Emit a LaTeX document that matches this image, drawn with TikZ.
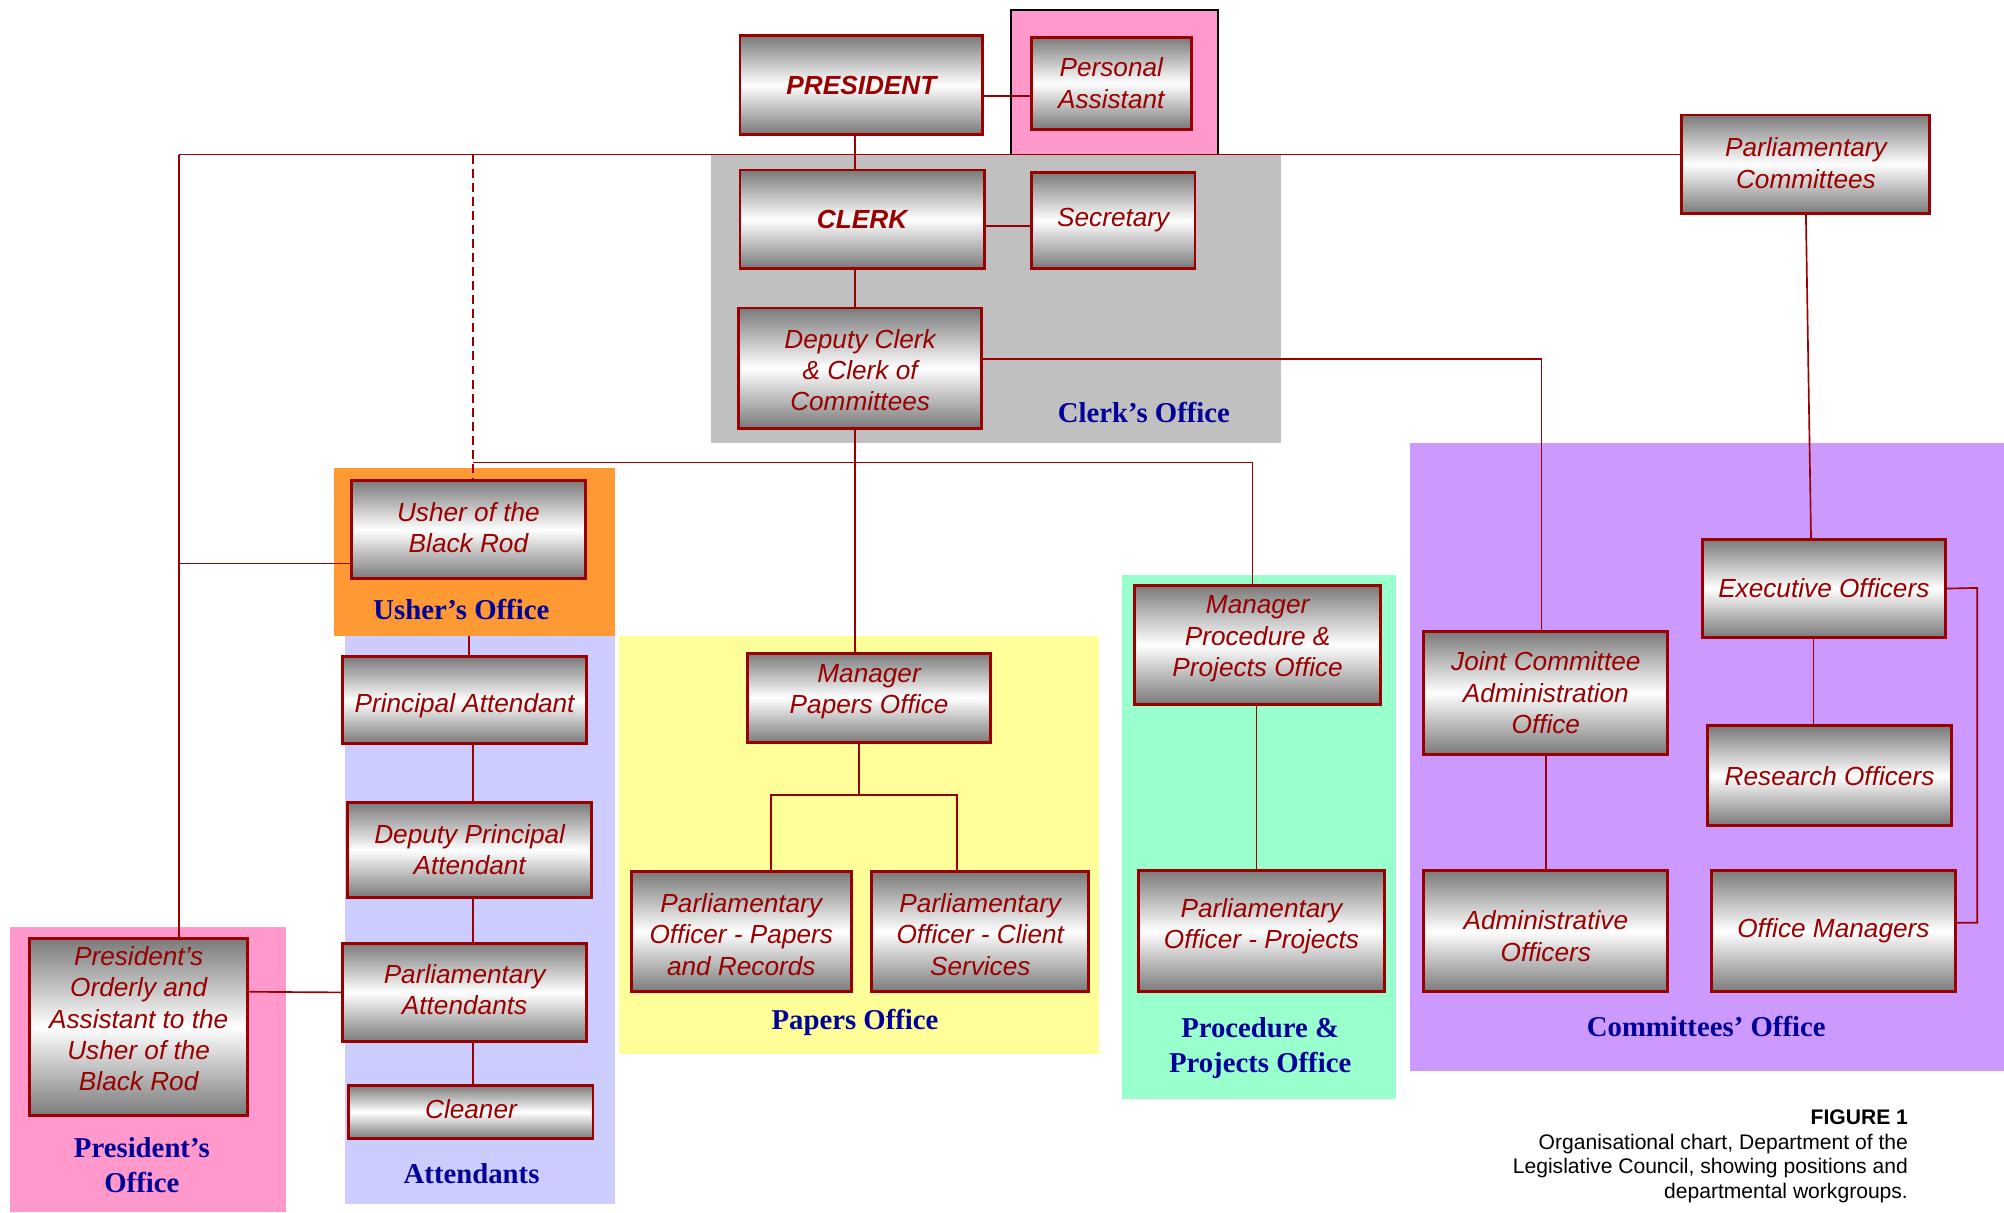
\documentclass[tikz,border=0pt]{standalone}
\usepackage{fontspec}
\usetikzlibrary{calc}
\newfontfamily\arialf{Liberation Sans}
\newfontfamily\timesf{Liberation Serif}
\definecolor{boxred}{HTML}{990000}
\definecolor{navyc}{HTML}{000099}
\definecolor{pinkc}{HTML}{FF99CC}
\definecolor{grayc}{HTML}{C0C0C0}
\definecolor{orangec}{HTML}{FF9933}
\definecolor{lavc}{HTML}{CCCCFF}
\definecolor{yelc}{HTML}{FFFF99}
\definecolor{grnc}{HTML}{99FFCC}
\definecolor{purc}{HTML}{CC99FF}
\definecolor{shadec}{HTML}{7A7A7A}
\newcommand{\mylines}[2]{\raisebox{#1}[\height][\depth]{\begin{tabular}{@{}c@{}}#2\end{tabular}}}
\tikzset{
  box/.style={draw=boxred, line width=2.3pt, top color=shadec, bottom color=shadec, middle color=white,
    font=\arialf\itshape\fontsize{20.5}{24.5}\selectfont, text=boxred, align=center, inner sep=0pt},
  conn/.style={draw=boxred, line width=1.3pt},
  dconn/.style={draw=boxred, line width=2pt, dash pattern=on 7pt off 4pt},
  grp/.style={font=\timesf\bfseries\fontsize{22.5}{27.5}\selectfont, text=navyc, align=center, inner sep=0pt},
  captxt/.style={font=\arialf\fontsize{16.5}{19}\selectfont, text=black, inner sep=0pt, anchor=base east}
}
\begin{document}
\begin{tikzpicture}[x=1pt,y=-1pt]
\useasboundingbox (0,0) rectangle (1568,949);
\fill[white] (0,0) rectangle (1568,949);
% group backgrounds
\fill[pinkc] (791,8) rectangle (953,121);
\draw[black, line width=1.3pt] (791,121) -- (791,8) -- (953,8) -- (953,121);
\fill[grayc] (556,121) rectangle (1002,347);
\fill[orangec] (261,366) rectangle (481,498);
\fill[lavc] (270,498) rectangle (481,942);
\fill[pinkc] (8,725) rectangle (224,948);
\fill[yelc] (484,498) rectangle (860,825);
\fill[grnc] (878,450) rectangle (1092,860);
\fill[purc] (1103,347) rectangle (1568,838);

% boxes
\node[box, minimum width=190pt, minimum height=77pt] (pres) at (674,66.5) {\bfseries PRESIDENT};
\node[box, minimum width=125pt, minimum height=72pt] (pa) at (869.5,65) {Personal\\Assistant};
\node[box, minimum width=191pt, minimum height=77pt] (clerk) at (674.5,171.5) {\bfseries CLERK};
\node[box, minimum width=128pt, minimum height=75pt] (sec) at (871,172.5) {Secretary};
\node[box, minimum width=190pt, minimum height=94pt] (dep) at (673,288) {\mylines{-4pt}{Deputy Clerk\\\& Clerk of\\Committees}};
\node[box, minimum width=194pt, minimum height=77pt] (pc) at (1413,128.5) {\mylines{-1.5pt}{Parliamentary\\Committees}};
\node[box, minimum width=183pt, minimum height=77pt] (usher) at (366.5,414.5) {\mylines{-1pt}{Usher of the\\Black Rod}};
\node[box, minimum width=191pt, minimum height=68pt] (prin) at (363.5,548) {\mylines{-4.5pt}{Principal Attendant}};
\node[box, minimum width=191pt, minimum height=74pt] (dpa) at (367.5,665) {Deputy Principal\\Attendant};
\node[box, minimum width=191pt, minimum height=77pt] (parat) at (363.5,776.5) {\mylines{-0.5pt}{Parliamentary\\Attendants}};
\node[box, minimum width=191pt, minimum height=42pt] (clean) at (368.5,870) {\mylines{-0.5pt}{Cleaner}};
\node[box, minimum width=171pt, minimum height=139pt] (ord) at (108.5,803.5) {\mylines{4pt}{President’s\\Orderly and\\Assistant to the\\Usher of the\\Black Rod}};
\node[box, minimum width=190pt, minimum height=70pt] (mpo) at (680,546) {\mylines{5pt}{Manager\\Papers Office}};
\node[box, minimum width=172pt, minimum height=94pt] (popr) at (580,729) {\mylines{-4.5pt}{Parliamentary\\Officer - Papers\\and Records}};
\node[box, minimum width=170pt, minimum height=94pt] (pocs) at (767,729) {\mylines{-4.5pt}{Parliamentary\\Officer - Client\\Services}};
\node[box, minimum width=192pt, minimum height=93pt] (mpp) at (984,504.5) {\mylines{4.5pt}{Manager\\Procedure \&\\Projects Office}};
\node[box, minimum width=192pt, minimum height=95pt] (popj) at (987,728.5) {\mylines{3.5pt}{Parliamentary\\Officer - Projects}};
\node[box, minimum width=191pt, minimum height=96pt] (jca) at (1209.5,542) {Joint Committee\\Administration\\Office};
\node[box, minimum width=191pt, minimum height=95pt] (ado) at (1209.5,728.5) {\mylines{-6.5pt}{Administrative\\Officers}};
\node[box, minimum width=190pt, minimum height=77pt] (exo) at (1427,460.5) {Executive Officers};
\node[box, minimum width=191pt, minimum height=78pt] (reo) at (1431.5,607) {Research Officers};
\node[box, minimum width=191pt, minimum height=95pt] (omg) at (1434.5,728.5) {Office Managers};

% junction coordinates
\coordinate (tl) at (140,121);
\coordinate (td) at (370,121);
\coordinate (lb) at (140,441);
\coordinate (dm) at (370,362);
\coordinate (ub) at (367,498);
\coordinate (pj) at (672,622);
\coordinate (br) at (1547,460);

% connectors
\draw[conn] ($(pres.east)+(0,8.5)$) -- ($(pa.west)+(0,10)$);
\draw[conn] ($(pres.south)+(-5,0)$) -- ($(clerk.north)+(-5.5,0)$);
\draw[conn] ($(clerk.east)+(0,5.5)$) -- ($(sec.west)+(0,4.5)$);
\draw[conn] ($(clerk.south)+(-5.5,0)$) -- ($(dep.north)+(-4,0)$);
\draw[conn] (tl) -- ($(pc.west)+(0,-7.5)$);
\draw[conn] (tl) -- ($(ord.north)+(31.5,0)$);
\draw[conn] (lb) -- ($(usher.west)+(0,26.5)$);
\draw[dconn] (td) -- ($(usher.north)+(3.5,0)$);
\draw[conn] (dm) -| ($(mpp.north)+(-4,0)$);
\draw[conn] (ub) -- ($(prin.north)+(3.5,0)$);
\draw[conn] ($(prin.south)+(6.5,0)$) -- ($(dpa.north)+(2.5,0)$);
\draw[conn] ($(dpa.south)+(2.5,0)$) -- ($(parat.north)+(6.5,0)$);
\draw[conn] ($(parat.south)+(6.5,0)$) -- ($(clean.north)+(1.5,0)$);
\draw[conn] ($(ord.east)+(0,-27.5)$) -- (parat.west);
\draw[conn] ($(dep.south)+(-4,0)$) -- ($(mpo.north)+(-11,0)$);
\draw[conn] ($(mpo.south)+(-8,0)$) -- (pj);
\draw[conn] ($(popr.north)+(23,0)$) |- (pj) -| ($(pocs.north)+(-18,0)$);
\draw[conn] ($(dep.east)+(0,-7)$) -| ($(jca.north)+(-3.5,0)$);
\draw[conn] ($(mpp.south)+(-1,0)$) -- ($(popj.north)+(-4,0)$);
\draw[conn] (jca.south) -- (ado.north);
\draw[conn] (pc.south) -- ($(exo.north)+(-10,0)$);
\draw[conn] ($(exo.south)+(-8,0)$) -- ($(reo.north)+(-12.5,0)$);
\draw[conn] (exo.east) -- (br) |- ($(omg.east)+(0,-6.5)$);

% group labels
\node[grp] (lclerk) at (895,323) {Clerk’s Office};
\node[grp] (lusher) at (361,477) {Usher’s Office};
\node[grp] (latt) at (369,918) {Attendants};
\node[grp] (lpres) at (111,911.5) {President’s\\Office};
\node[grp] (lpap) at (669,800) {Papers Office};
\node[grp] (lproc) at (986,820) {Procedure \&\\Projects Office};
\node[grp] (lcom) at (1335,803) {Committees’ Office};

% caption
\node[captxt] (cap1) at (1493,880) {\bfseries FIGURE 1};
\node[captxt] (cap2) at (1493,899.5) {Organisational chart, Department of the};
\node[captxt] (cap3) at (1493,918.5) {Legislative Council, showing positions and};
\node[captxt] (cap4) at (1493,937.5) {departmental workgroups.};
\end{tikzpicture}
\end{document}
